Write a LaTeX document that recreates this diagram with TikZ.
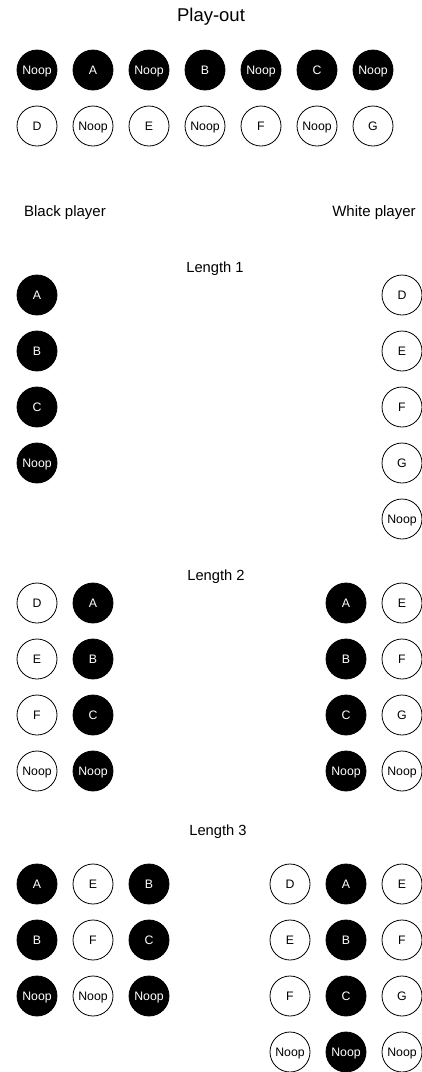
\documentclass[tikz,border=0pt]{standalone}
\usepackage{fontspec}
\setmainfont{Liberation Sans}
\usetikzlibrary{positioning}
\tikzset{
    x=1pt,y=1pt,node distance =16pt and 16pt,
    move/.style ={circle, draw=black, line width=0.8pt, minimum size=40pt, inner sep=0pt, outer sep=0pt, text height=8.8pt, text depth=0pt, font=\fontsize{12.3}{12.3}\selectfont},
    bmove/.style = {move, fill=black, text=white},
    wmove/.style = {move, fill=white, text=black},
    title/.style = {anchor=base, font=\fontsize{18.5}{20}\selectfont},
    player/.style = {anchor=base, font=\fontsize{15}{17}\selectfont},
    len/.style = {anchor=base, font=\fontsize{14.7}{16}\selectfont}
}

\begin{document}
\begin{tikzpicture}
    \useasboundingbox (0,0) rectangle (422,-1072);
    \node[title] (playout) at (211,-21) {Play-out};
    % play-out sequence
    \node[bmove] (b1) at (37,-70) {Noop};
    \node[bmove] (b2) [right = of b1] {A};
    \node[bmove] (b3) [right = of b2] {Noop};
    \node[bmove] (b4) [right = of b3] {B};
    \node[bmove] (b5) [right = of b4] {Noop};
    \node[bmove] (b6) [right = of b5] {C};
    \node[bmove] (b7) [right = of b6] {Noop};
    \node[wmove] (w1) [below = of b1] {D};
    \node[wmove] (w2) [right = of w1] {Noop};
    \node[wmove] (w3) [right = of w2] {E};
    \node[wmove] (w4) [right = of w3] {Noop};
    \node[wmove] (w5) [right = of w4] {F};
    \node[wmove] (w6) [right = of w5] {Noop};
    \node[wmove] (w7) [right = of w6] {G};

    \node[player] (black) at (65,-216) {Black player};
    \node[player] (white) at (374,-216) {White player};

    % length 1
    \node[len] (len1) at (215,-272) {Length 1};
    \node[bmove] (la1) at (37,-295) {A};
    \node[bmove] (la2) [below = of la1] {B};
    \node[bmove] (la3) [below = of la2] {C};
    \node[bmove] (la4) [below = of la3] {Noop};
    \node[wmove] (ra1) at (402,-295) {D};
    \node[wmove] (ra2) [below = of ra1] {E};
    \node[wmove] (ra3) [below = of ra2] {F};
    \node[wmove] (ra4) [below = of ra3] {G};
    \node[wmove] (ra5) [below = of ra4] {Noop};

    % length 2
    \node[len] (len2) at (216,-580) {Length 2};
    \node[wmove] (lb1) at (37,-603) {D};
    \node[wmove] (lb2) [below = of lb1] {E};
    \node[wmove] (lb3) [below = of lb2] {F};
    \node[wmove] (lb4) [below = of lb3] {Noop};
    \node[bmove] (lc1) [right = of lb1] {A};
    \node[bmove] (lc2) [right = of lb2] {B};
    \node[bmove] (lc3) [right = of lb3] {C};
    \node[bmove] (lc4) [right = of lb4] {Noop};
    \node[bmove] (rb1) at (346,-603) {A};
    \node[bmove] (rb2) [below = of rb1] {B};
    \node[bmove] (rb3) [below = of rb2] {C};
    \node[bmove] (rb4) [below = of rb3] {Noop};
    \node[wmove] (rc1) [right = of rb1] {E};
    \node[wmove] (rc2) [right = of rb2] {F};
    \node[wmove] (rc3) [right = of rb3] {G};
    \node[wmove] (rc4) [right = of rb4] {Noop};

    % length 3
    \node[len] (len3) at (218,-835) {Length 3};
    \node[bmove] (ld1) at (37,-884) {A};
    \node[bmove] (ld2) [below = of ld1] {B};
    \node[bmove] (ld3) [below = of ld2] {Noop};
    \node[wmove] (le1) [right = of ld1] {E};
    \node[wmove] (le2) [right = of ld2] {F};
    \node[wmove] (le3) [right = of ld3] {Noop};
    \node[bmove] (lf1) [right = of le1] {B};
    \node[bmove] (lf2) [right = of le2] {C};
    \node[bmove] (lf3) [right = of le3] {Noop};
    \node[wmove] (rd1) at (290,-884) {D};
    \node[wmove] (rd2) [below = of rd1] {E};
    \node[wmove] (rd3) [below = of rd2] {F};
    \node[wmove] (rd4) [below = of rd3] {Noop};
    \node[bmove] (re1) [right = of rd1] {A};
    \node[bmove] (re2) [right = of rd2] {B};
    \node[bmove] (re3) [right = of rd3] {C};
    \node[bmove] (re4) [right = of rd4] {Noop};
    \node[wmove] (rf1) [right = of re1] {E};
    \node[wmove] (rf2) [right = of re2] {F};
    \node[wmove] (rf3) [right = of re3] {G};
    \node[wmove] (rf4) [right = of re4] {Noop};

\end{tikzpicture}
\end{document}
